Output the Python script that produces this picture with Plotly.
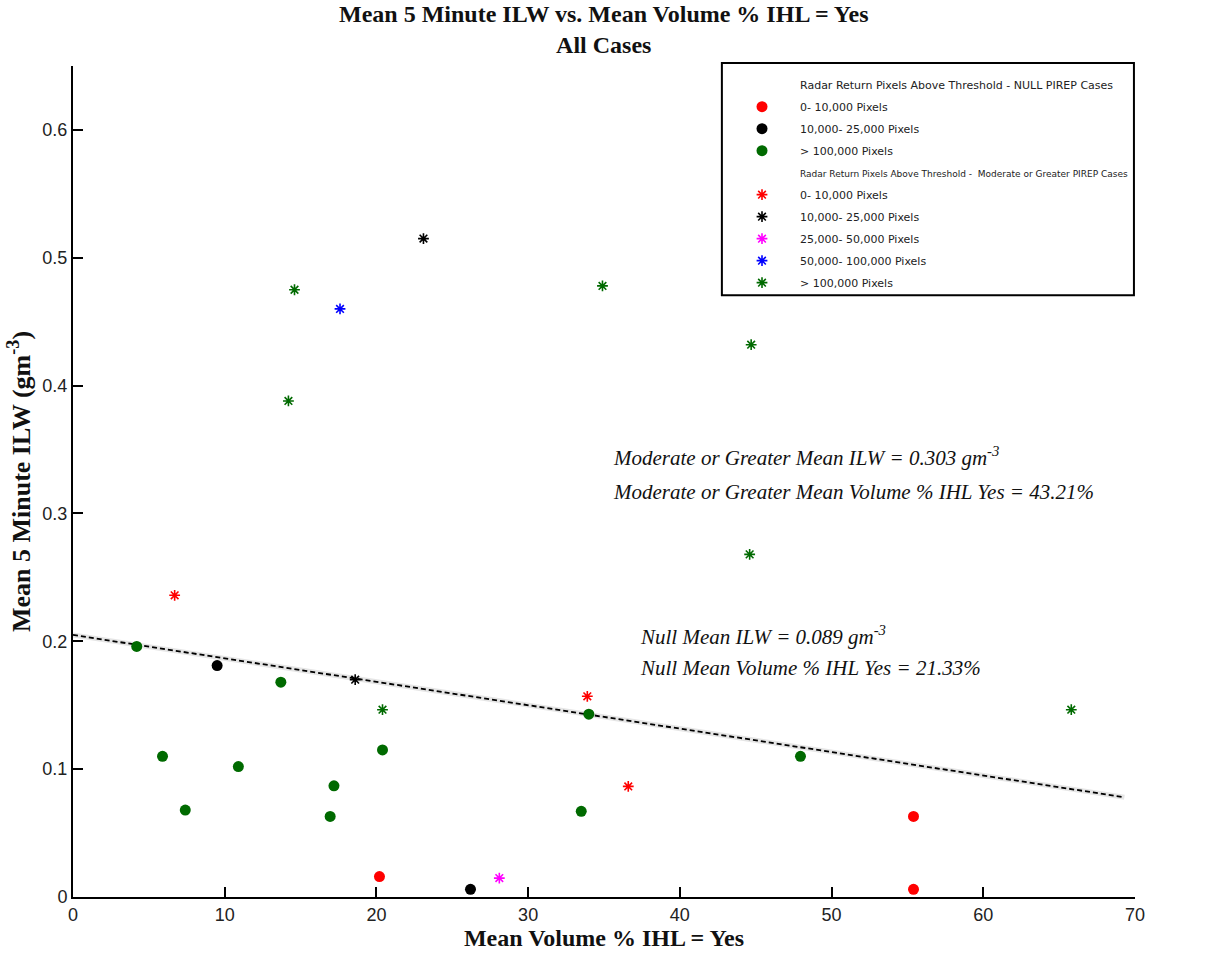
import plotly.graph_objects as go

# NULL PIREP cases (circles), grouped by radar return pixel count
null_0_10k_x = [20.2, 55.4, 55.4]
null_0_10k_y = [0.016, 0.063, 0.006]
null_10k_25k_x = [9.5, 26.2]
null_10k_25k_y = [0.181, 0.006]
null_gt100k_x = [4.2, 5.9, 7.4, 10.9, 13.7, 17.2, 16.95, 20.4, 34.0, 33.5, 47.95]
null_gt100k_y = [0.196, 0.110, 0.068, 0.102, 0.168, 0.087, 0.063, 0.115, 0.143, 0.067, 0.110]

# Moderate or greater PIREP cases (asterisks)
mog_0_10k_x = [6.7, 33.9, 36.6]
mog_0_10k_y = [0.236, 0.157, 0.0865]
mog_10k_25k_x = [23.1, 18.6]
mog_10k_25k_y = [0.515, 0.170]
mog_25k_50k_x = [28.1]
mog_25k_50k_y = [0.0148]
mog_50k_100k_x = [17.6]
mog_50k_100k_y = [0.460]
mog_gt100k_x = [14.6, 14.2, 34.9, 44.7, 44.6, 20.4, 65.8]
mog_gt100k_y = [0.475, 0.388, 0.478, 0.432, 0.268, 0.1465, 0.1465]

# Least-squares trend line endpoints
fit_x = [0.0, 69.3]
fit_y = [0.205, 0.078]

x_ticks = [0, 10, 20, 30, 40, 50, 60, 70]
y_ticks = [0, 0.1, 0.2, 0.3, 0.4, 0.5, 0.6]

RED, BLACK, GREEN, MAGENTA, BLUE = "#ff0000", "#000000", "#006a00", "#ff00ff", "#0000ff"

fig = go.Figure()

# soft halo under the trend line, then the dashed line itself
fig.add_trace(go.Scatter(x=fit_x, y=fit_y, mode="lines", showlegend=False, hoverinfo="skip",
                         line=dict(color="rgba(0,0,0,0.10)", width=5)))
fig.add_trace(go.Scatter(x=fit_x, y=fit_y, mode="lines", showlegend=False,
                         line=dict(color="black", width=1.8, dash="5px,3px")))


def heading(text, group):
    fig.add_trace(go.Scatter(x=[None], y=[None], mode="markers", name=text, legendgroup=group,
                             marker=dict(color="rgba(0,0,0,0)", size=1)))


def circles(x, y, color, name, group):
    fig.add_trace(go.Scatter(x=x, y=y, mode="markers", name=name, legendgroup=group,
                             marker=dict(symbol="circle", size=11, color=color,
                                         line=dict(width=0))))


def stars(x, y, color, name, group):
    fig.add_trace(go.Scatter(x=x, y=y, mode="markers", name=name, legendgroup=group,
                             marker=dict(symbol="asterisk-open", size=9, color=color,
                                         line=dict(color=color, width=1.6))))


heading("Radar Return Pixels Above Threshold - NULL PIREP Cases", "g0")
circles(null_0_10k_x, null_0_10k_y, RED, "0- 10,000 Pixels", "g1")
circles(null_10k_25k_x, null_10k_25k_y, BLACK, "10,000- 25,000 Pixels", "g2")
circles(null_gt100k_x, null_gt100k_y, GREEN, "> 100,000 Pixels", "g3")
heading('<span style="font-size:9px">Radar Return Pixels Above Threshold -  '
        'Moderate or Greater PIREP Cases</span>', "g4")
stars(mog_0_10k_x, mog_0_10k_y, RED, "0- 10,000 Pixels", "g5")
stars(mog_10k_25k_x, mog_10k_25k_y, BLACK, "10,000- 25,000 Pixels", "g6")
stars(mog_25k_50k_x, mog_25k_50k_y, MAGENTA, "25,000- 50,000 Pixels", "g7")
stars(mog_50k_100k_x, mog_50k_100k_y, BLUE, "50,000- 100,000 Pixels", "g8")
stars(mog_gt100k_x, mog_gt100k_y, GREEN, "> 100,000 Pixels", "g9")

serif = "Liberation Serif, Times New Roman, serif"
tick_font = dict(family="Liberation Sans Narrow, Arial Narrow, Liberation Sans, sans-serif",
                 size=18, color="#222222")

annotations = [
    dict(text="<i>Moderate or Greater Mean ILW = 0.303 gm<sup>-3</sup></i>", x=0.507, y=0.530),
    dict(text="<i>Moderate or Greater Mean Volume % IHL Yes = 43.21%</i>", x=0.507, y=0.487),
    dict(text="<i>Null Mean ILW = 0.089 gm<sup>-3</sup></i>", x=0.532, y=0.315),
    dict(text="<i>Null Mean Volume % IHL Yes = 21.33%</i>", x=0.532, y=0.275),
]
for a in annotations:
    a.update(xref="paper", yref="paper", xanchor="left", yanchor="middle", showarrow=False,
             font=dict(family=serif, size=21, color="#111111"))

annotations.append(dict(
    text="<b>Mean 5 Minute ILW vs. Mean Volume % IHL = Yes</b><br><b>All Cases</b>",
    xref="paper", yref="paper", x=0.5, y=1.0, yshift=6, xanchor="center", yanchor="bottom",
    showarrow=False, font=dict(family=serif, size=24, color="#111111")))

fig.update_layout(
    width=1225, height=957,
    margin=dict(l=73, r=90, t=66, b=57),
    paper_bgcolor="white", plot_bgcolor="white",
    annotations=annotations,
    showlegend=True,
    legend=dict(
        x=0.613, y=0.995, xanchor="left", yanchor="top",
        bgcolor="rgba(0,0,0,0)", borderwidth=0,
        font=dict(family="DejaVu Sans, sans-serif", size=11, color="#222222"),
        itemwidth=66, tracegroupgap=3, traceorder="grouped",
        itemclick=False, itemdoubleclick=False,
    ),
    shapes=[dict(type="rect", xref="paper", yref="paper", x0=0.611, x1=0.999,
                 y0=0.724, y1=1.0036, line=dict(color="black", width=2), fillcolor="rgba(0,0,0,0)")],
    xaxis=dict(
        range=[0, 70], tickvals=x_ticks, ticks="inside", ticklen=10, tickwidth=1.5,
        tickcolor="black", showline=True, linecolor="black", linewidth=2,
        showgrid=False, zeroline=False, tickfont=tick_font,
        title=dict(text="<b>Mean Volume % IHL = Yes</b>", standoff=4,
                   font=dict(family=serif, size=24, color="#111111")),
    ),
    yaxis=dict(
        range=[0, 0.65], tickvals=y_ticks, ticktext=["0", "0.1", "0.2", "0.3", "0.4", "0.5", "0.6"],
        ticks="inside", ticklen=10, tickwidth=1.5,
        tickcolor="black", showline=True, linecolor="black", linewidth=2,
        showgrid=False, zeroline=False, tickfont=tick_font,
        title=dict(text="<b>Mean 5 Minute ILW (gm<sup>-3</sup>)</b>", standoff=4,
                   font=dict(family=serif, size=26, color="#111111")),
    ),
)

fig.write_html("out.html")
